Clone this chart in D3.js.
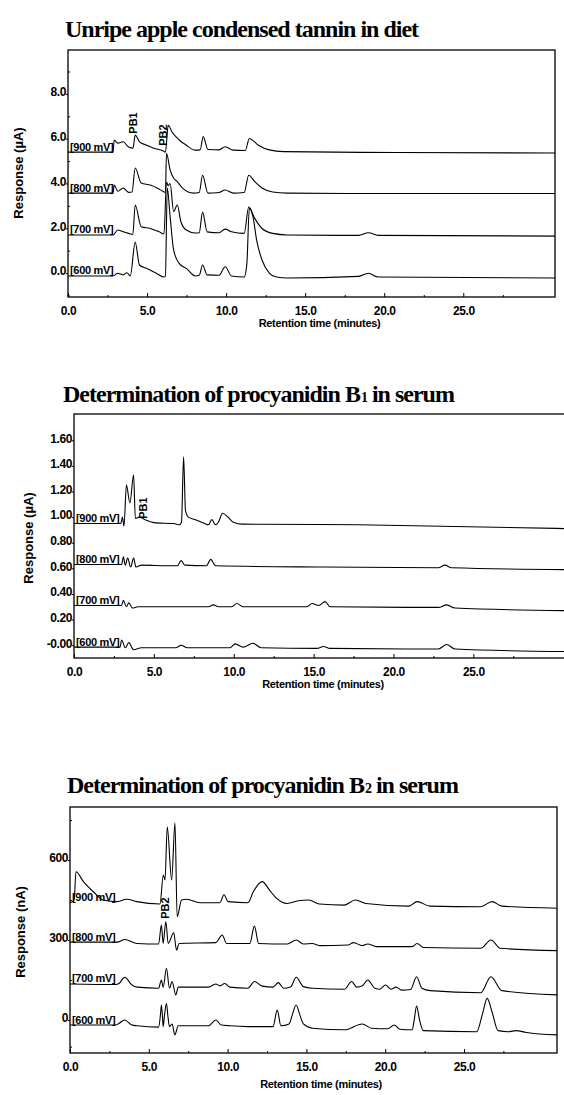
<!DOCTYPE html>
<html>
<head>
<meta charset="utf-8">
<script src="https://cdn.jsdelivr.net/npm/d3@7"></script>
<style>
  body { margin: 0; background: #fff; }
</style>
</head>
<body>
<div id="chart"></div>
<script>
// ---- shared ----
var timeTicks = [0, 5, 10, 15, 20, 25];
var timeTickLabels = ["0.0", "5.0", "10.0", "15.0", "20.0", "25.0"];
var timeMinorTicks = [2.5, 7.5, 12.5, 17.5, 22.5, 27.5];
var seriesNames = ["[900 mV]", "[800 mV]", "[700 mV]", "[600 mV]"];

// ---- panel 1: unripe apple condensed tannin in diet (uA) ----
var dietTicks = [0, 2, 4, 6, 8];
var dietTickLabels = ["0.0", "2.0", "4.0", "6.0", "8.0"];
var dietMinorTicks = [-1, 1, 3, 5, 7, 9];
var diet900 = [[0,5.40],[2.85,5.40],[2.92,5.94],[3.15,5.80],[3.49,5.86],[3.83,5.63],[4.11,5.58],[4.25,6.16],[4.52,5.86],[4.97,5.71],[5.43,5.57],[6.00,5.46],[6.16,5.40],[6.34,6.60],[6.57,6.31],[7.03,5.94],[7.48,5.71],[8.05,5.49],[8.36,5.50],[8.55,6.09],[8.85,5.52],[9.55,5.50],[9.94,5.64],[10.45,5.49],[11.21,5.47],[11.47,6.01],[12.04,5.71],[12.73,5.50],[13.64,5.42],[20.76,5.38],[30.8,5.36]];
var diet800 = [[0,3.57],[2.85,3.57],[2.92,3.93],[3.15,3.65],[3.49,3.80],[3.83,3.60],[4.05,3.62],[4.25,4.69],[4.63,4.02],[5.20,3.93],[5.66,3.79],[6.00,3.65],[6.16,3.60],[6.23,5.35],[6.46,4.60],[6.68,4.24],[6.91,4.08],[7.26,3.78],[7.94,3.57],[8.30,3.60],[8.51,4.37],[8.85,3.57],[9.55,3.60],[9.94,3.71],[10.45,3.57],[11.14,3.60],[11.43,4.37],[11.81,4.08],[12.27,3.80],[12.95,3.62],[13.87,3.57],[20.76,3.55],[30.8,3.55]];
var diet700 = [[0,1.70],[2.85,1.70],[3.15,1.92],[3.49,1.84],[3.83,1.77],[4.10,1.72],[4.25,3.04],[4.63,2.07],[5.20,1.99],[5.77,1.84],[6.07,1.74],[6.23,4.06],[6.34,3.90],[6.46,4.00],[6.68,2.74],[6.91,3.04],[7.14,2.29],[7.48,1.92],[8.05,1.79],[8.30,1.80],[8.51,2.72],[8.80,1.84],[9.55,1.80],[9.94,1.96],[10.34,1.84],[11.14,1.77],[11.43,2.95],[11.81,2.44],[12.27,1.99],[12.95,1.77],[13.87,1.70],[18.37,1.68],[19.0,1.80],[19.62,1.68],[30.8,1.65]];
var diet600 = [[0,-0.13],[2.85,-0.13],[3.15,-0.01],[3.49,-0.08],[3.72,0.01],[3.94,-0.13],[4.25,1.38],[4.52,0.36],[4.97,0.21],[5.66,-0.04],[6.07,-0.18],[6.16,-0.15],[6.28,3.80],[6.46,2.51],[6.68,1.03],[7.03,0.43],[7.48,0.21],[8.05,-0.13],[8.30,-0.10],[8.51,0.36],[8.80,-0.08],[9.55,-0.10],[9.94,0.28],[10.34,-0.13],[11.14,-0.18],[11.31,0.40],[11.47,2.90],[11.70,2.51],[11.93,1.47],[12.27,0.58],[12.73,0.0],[13.18,-0.18],[13.87,-0.22],[18.37,-0.15],[19.0,-0.01],[19.62,-0.18],[30.8,-0.22]];
var dietPeakLabels = [["PB1", 4.14, 6.70], ["PB2", 6.04, 6.16]];

// ---- panel 2: procyanidin B1 in serum (uA) ----
var b1Ticks = [0, 0.2, 0.4, 0.6, 0.8, 1.0, 1.2, 1.4, 1.6];
var b1TickLabels = ["-0.00", "0.20", "0.40", "0.60", "0.80", "1.00", "1.20", "1.40", "1.60"];
var b1MinorTicks = [];
var b1900 = [[0,0.95],[2.93,0.95],[3.03,1.00],[3.13,0.93],[3.28,1.25],[3.50,1.11],[3.73,1.33],[3.84,0.99],[4.11,1.00],[4.45,0.98],[5.13,0.955],[6.26,0.95],[6.60,0.94],[6.73,0.96],[6.86,1.47],[6.98,1.05],[7.16,1.00],[7.61,0.98],[8.18,0.95],[8.41,0.94],[8.63,0.98],[8.86,0.94],[9.04,0.96],[9.30,1.03],[9.64,1.00],[9.98,0.96],[10.54,0.945],[17.78,0.94],[30.8,0.91]];
var b1800 = [[0,0.63],[2.98,0.63],[3.09,0.69],[3.21,0.625],[3.36,0.68],[3.55,0.61],[3.73,0.68],[3.88,0.61],[4.22,0.625],[6.03,0.62],[6.47,0.62],[6.71,0.66],[6.94,0.625],[8.29,0.62],[8.56,0.67],[8.86,0.62],[15.52,0.61],[22.81,0.605],[23.22,0.625],[23.63,0.605],[30.8,0.59]];
var b1700 = [[0,0.31],[2.98,0.31],[3.09,0.35],[3.28,0.30],[3.43,0.33],[3.66,0.29],[4.00,0.30],[8.43,0.30],[8.73,0.315],[9.04,0.30],[9.87,0.30],[10.20,0.325],[10.58,0.30],[14.59,0.30],[14.90,0.325],[15.31,0.31],[15.72,0.34],[16.03,0.30],[22.81,0.295],[23.33,0.315],[23.84,0.29],[30.8,0.27]];
var b1600 = [[0,-0.015],[2.88,-0.015],[2.98,0.04],[3.21,-0.02],[3.43,0.02],[3.73,-0.035],[4.22,-0.02],[6.37,-0.02],[6.71,0.0],[7.09,-0.02],[9.76,-0.02],[10.09,0.01],[10.58,-0.015],[11.20,0.015],[11.71,-0.02],[15.21,-0.025],[15.62,-0.01],[16.03,-0.025],[22.81,-0.03],[23.33,0.005],[23.84,-0.03],[30.8,-0.05]];
var b1PeakLabels = [["PB1", 4.30, 1.07]];

// ---- panel 3: procyanidin B2 in serum (nA) ----
var b2Ticks = [0, 300, 600];
var b2TickLabels = ["0", "300", "600"];
var b2MinorTicks = [-100, 150, 450, 750];
var b2900 = [[0,439],[0.26,450],[0.38,556],[0.85,519],[1.48,481],[2.11,450],[2.96,444],[3.60,453],[4.23,444],[5.71,435],[5.92,544],[6.03,525],[6.17,725],[6.45,525],[6.66,740],[6.80,387],[7.08,450],[7.40,453],[8.25,440],[9.51,440],[9.77,470],[10.03,444],[11.29,440],[11.63,481],[12.20,519],[12.66,487],[13.11,456],[13.78,437],[14.48,447],[15.15,450],[15.82,435],[17.41,431],[18.10,450],[18.78,437],[21.51,427],[22.02,444],[22.85,427],[26.06,425],[26.78,444],[27.40,427],[30.9,419]];
var b2800 = [[0,292],[2.90,292],[3.13,294],[3.47,302],[4.26,287],[5.62,285],[5.80,356],[5.91,287],[6.08,369],[6.23,287],[6.58,327],[6.76,262],[6.92,287],[9.25,290],[9.66,319],[9.93,287],[11.41,287],[11.70,352],[11.97,287],[13.78,285],[14.35,300],[14.81,285],[15.38,287],[15.82,279],[17.64,281],[17.98,290],[18.55,279],[18.89,285],[19.44,275],[21.71,275],[22.02,287],[22.41,272],[26.06,269],[26.71,300],[27.30,269],[30.9,260]];
var b2700 = [[0,135],[2.90,133],[3.13,138],[3.47,160],[3.93,131],[4.26,123],[5.62,119],[5.80,150],[5.91,123],[6.12,194],[6.31,119],[6.48,144],[6.71,94],[6.87,123],[8.79,123],[9.25,135],[9.51,128],[9.82,137],[10.15,123],[11.29,119],[11.70,144],[12.20,127],[12.88,123],[13.22,140],[13.56,119],[14.01,125],[14.35,160],[14.81,125],[15.38,119],[17.41,115],[17.87,144],[18.20,123],[18.55,128],[18.89,150],[19.34,119],[19.65,115],[20.02,131],[20.37,115],[20.68,123],[21.04,112],[21.61,114],[21.99,162],[22.33,119],[22.85,110],[26.06,102],[26.71,162],[27.40,110],[30.9,94]];
var b2600 = [[0,-19],[2.90,-19],[3.13,-12],[3.47,0],[3.93,-19],[4.26,-22],[5.62,-27],[5.74,20],[5.80,56],[5.87,10],[5.91,-25],[6.00,20],[6.12,62],[6.22,10],[6.31,-25],[6.48,-15],[6.65,-56],[6.87,-22],[8.79,-22],[9.25,0],[9.60,-19],[10.15,-22],[11.29,-25],[12.88,-25],[13.15,37],[13.38,-22],[13.90,-15],[14.11,20],[14.35,56],[14.58,20],[14.81,-15],[15.38,-31],[17.41,-37],[18.55,-15],[19.13,-31],[20.16,-33],[20.58,-19],[20.93,-35],[21.71,-37],[21.84,0],[21.99,52],[22.18,0],[22.41,-40],[25.81,-44],[26.16,20],[26.47,81],[26.78,30],[27.16,-40],[27.81,-44],[28.30,-40],[28.95,-47],[30.9,-56]];
var b2PeakLabels = [["PB2", 6.03, 420]];

var panels = [
  {
    title: ["Unripe apple condensed tannin in diet"], titleX: 65, titleY: 37,
    left: 68, right: 555, top: 50, bottom: 297, xMax: 30.8, yDomain: [-1.07, 9.96],
    yTicks: dietTicks, yTickLabels: dietTickLabels, yMinor: dietMinorTicks,
    yTitle: "Response (\u00b5A)", yTitleX: 18, yTitleY: 173, xTitleY: 327,
    traces: [diet900, diet800, diet700, diet600], peaks: dietPeakLabels
  },
  {
    title: ["Determination of procyanidin B", "1", " in serum"], titleX: 63, titleY: 402,
    left: 74, right: 566, top: 414, bottom: 658, xMax: 30.8, yDomain: [-0.10, 1.805],
    yTicks: b1Ticks, yTickLabels: b1TickLabels, yMinor: b1MinorTicks,
    yTitle: "Response (\u00b5A)", yTitleX: 28, yTitleY: 538, xTitleY: 688,
    traces: [b1900, b1800, b1700, b1600], peaks: b1PeakLabels
  },
  {
    title: ["Determination of procyanidin B", "2", " in serum"], titleX: 67, titleY: 793,
    left: 70, right: 557, top: 807, bottom: 1053, xMax: 30.9, yDomain: [-124, 799],
    yTicks: b2Ticks, yTickLabels: b2TickLabels, yMinor: b2MinorTicks,
    yTitle: "Response (nA)", yTitleX: 20, yTitleY: 932, xTitleY: 1088,
    traces: [b2900, b2800, b2700, b2600], peaks: b2PeakLabels
  }
];

var svg = d3.select("#chart").append("svg")
  .attr("width", 564)
  .attr("height", 1095);

var sans = "Liberation Sans, Arial, sans-serif";

panels.forEach(function (p) {
  var x = d3.scaleLinear().domain([0, p.xMax]).range([p.left, p.right]);
  var y = d3.scaleLinear().domain(p.yDomain).range([p.bottom, p.top]);
  var g = svg.append("g");

  // title (serif, bold, with small subscript digit)
  var t = g.append("text")
    .attr("x", p.titleX).attr("y", p.titleY)
    .attr("font-family", "Liberation Serif, Times New Roman, serif")
    .attr("font-weight", "bold")
    .attr("font-size", 24)
    .attr("letter-spacing", -1);
  t.append("tspan").text(p.title[0]);
  if (p.title.length > 1) {
    t.append("tspan").attr("font-size", 14).attr("dx", 1).text(p.title[1]);
    t.append("tspan").text(p.title[2]);
  }

  // frame
  g.append("rect")
    .attr("x", p.left).attr("y", p.top)
    .attr("width", p.right - p.left).attr("height", p.bottom - p.top)
    .attr("fill", "none").attr("stroke", "#000").attr("stroke-width", 1.3);

  // x axis
  var xAxis = g.append("g")
    .attr("transform", "translate(0," + p.bottom + ")")
    .call(d3.axisBottom(x)
      .tickValues(timeTicks)
      .tickFormat(function (d, i) { return timeTickLabels[i]; })
      .tickSize(-4).tickPadding(9));
  g.append("g")
    .attr("transform", "translate(0," + p.bottom + ")")
    .call(d3.axisBottom(x).tickValues(timeMinorTicks).tickFormat("").tickSize(-2))
    .select(".domain").remove();

  // y axis
  var yAxis = g.append("g")
    .attr("transform", "translate(" + p.left + ",0)")
    .call(d3.axisLeft(y)
      .tickValues(p.yTicks)
      .tickFormat(function (d, i) { return p.yTickLabels[i]; })
      .tickSize(2).tickPadding(0));
  g.append("g")
    .attr("transform", "translate(" + p.left + ",0)")
    .call(d3.axisLeft(y).tickValues(p.yMinor).tickFormat("").tickSize(-2))
    .select(".domain").remove();

  [xAxis, yAxis].forEach(function (a) {
    a.select(".domain").remove();
    a.selectAll("text")
      .attr("font-family", sans).attr("font-weight", "bold")
      .attr("font-size", 12).attr("letter-spacing", -0.4).attr("fill", "#000");
  });
  yAxis.selectAll("text").attr("dy", "0.15em");
  g.selectAll(".tick line").attr("stroke", "#000").attr("stroke-width", 1);

  // axis titles
  g.append("text")
    .attr("x", (p.left + Math.min(p.right, 556)) / 2 + 8).attr("y", p.xTitleY)
    .attr("text-anchor", "middle")
    .attr("font-family", sans).attr("font-weight", "bold")
    .attr("font-size", 11).attr("letter-spacing", -0.3)
    .text("Retention time (minutes)");
  g.append("text")
    .attr("transform", "translate(" + p.yTitleX + "," + p.yTitleY + ") rotate(-90)")
    .attr("text-anchor", "middle").attr("dy", "0.35em")
    .attr("font-family", sans).attr("font-weight", "bold")
    .attr("font-size", 13)
    .text(p.yTitle);

  // traces
  var line = d3.line()
    .x(function (d) { return x(d[0]); })
    .y(function (d) { return y(d[1]); })
    .curve(d3.curveMonotoneX);

  g.selectAll(".trace")
    .data(p.traces)
    .enter()
    .append("path")
    .attr("d", line)
    .attr("fill", "none")
    .attr("stroke", "#000")
    .attr("stroke-width", 1.1);

  // series labels sit on the start of each trace
  g.selectAll(".slabel")
    .data(p.traces)
    .enter()
    .append("text")
    .attr("x", p.left + 2)
    .attr("y", function (d) { return y(d[0][1]) - 1.5; })
    .attr("font-family", sans).attr("font-weight", "bold")
    .attr("font-size", 11).attr("letter-spacing", -0.3)
    .text(function (d, i) { return seriesNames[i]; });

  // peak names, vertical
  g.selectAll(".plabel")
    .data(p.peaks)
    .enter()
    .append("text")
    .attr("transform", function (d) { return "translate(" + x(d[1]) + "," + y(d[2]) + ") rotate(-90)"; })
    .attr("text-anchor", "middle").attr("dy", "0.35em")
    .attr("font-family", sans).attr("font-weight", "bold")
    .attr("font-size", 11)
    .text(function (d) { return d[0]; });
});
</script>
</body>
</html>
